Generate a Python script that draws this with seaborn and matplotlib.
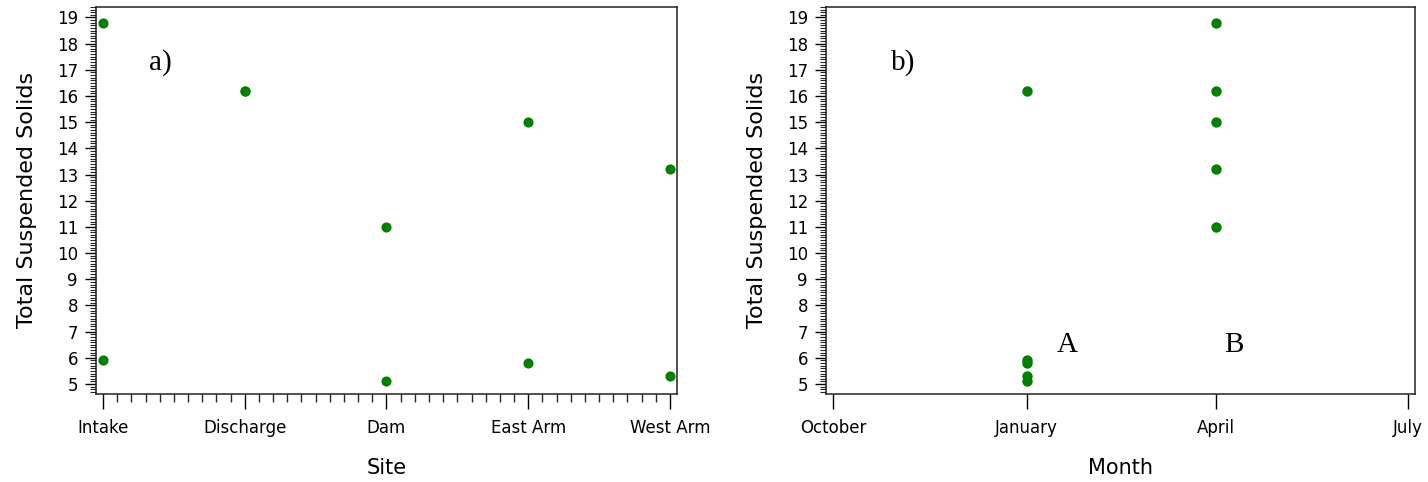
import matplotlib
matplotlib.use("Agg")
import matplotlib.pyplot as plt
import matplotlib.dates as mdates
from matplotlib.ticker import MultipleLocator, FixedLocator
import pandas as pd
import seaborn as sns

# Total suspended solids sampled at five sites in two months
sites = ["Intake", "Discharge", "Dam", "East Arm", "West Arm"]
january_tss = [5.9, 16.2, 5.1, 5.8, 5.3]
april_tss = [18.8, 16.2, 11.0, 15.0, 13.2]
sample_dates = ["2001-01-01", "2001-04-01"]
month_ticks = ["2000-10-01", "2001-01-01", "2001-04-01", "2001-07-01"]
y_ticks = list(range(5, 20))

df = pd.DataFrame({
    "Site": sites * 2,
    "Date": pd.to_datetime([sample_dates[0]] * len(sites) + [sample_dates[1]] * len(sites)),
    "TSS": january_tss + april_tss,
})

sns.set_style("ticks")
plt.rcParams["font.family"] = ["DejaVu Sans"]
plt.rcParams["text.color"] = "black"
plt.rcParams["axes.labelcolor"] = "black"

GREEN = "#008000"
SPINE = "#222222"

fig = plt.figure(figsize=(14.28, 4.82), dpi=100)
ax_a = fig.add_axes([0.0672, 0.1826, 0.4069, 0.8035])
ax_b = fig.add_axes([0.5784, 0.1826, 0.4125, 0.8035])

# a) by site
sns.stripplot(data=df, x="Site", y="TSS", order=sites, jitter=False,
              color=GREEN, size=7.3, linewidth=0, ax=ax_a)
ax_a.set_xlim(-0.05, len(sites) - 1 + 0.05)
ax_a.xaxis.set_minor_locator(MultipleLocator(0.1))
ax_a.set_xlabel("Site")

# b) by sampling month
sns.scatterplot(data=df, x="Date", y="TSS", color=GREEN, s=56,
                linewidth=0, ax=ax_b)
tick_dates = pd.to_datetime(month_ticks)
ax_b.xaxis.set_major_locator(FixedLocator(mdates.date2num(tick_dates)))
ax_b.xaxis.set_major_formatter(mdates.DateFormatter("%B"))
pad = pd.Timedelta(days=3.3)
ax_b.set_xlim(tick_dates[0] - pad, tick_dates[-1] + pad)
ax_b.set_xlabel("Month")

for ax in (ax_a, ax_b):
    ax.set_ylim(4.62, 19.41)
    ax.set_yticks(y_ticks)
    ax.yaxis.set_minor_locator(MultipleLocator(0.1))
    ax.set_ylabel("Total Suspended Solids", fontsize=16, labelpad=14)
    ax.xaxis.label.set_size(15)
    ax.xaxis.labelpad = 15
    for side in ("left", "right", "top", "bottom"):
        ax.spines[side].set_visible(True)
        ax.spines[side].set_color(SPINE)
        ax.spines[side].set_linewidth(1.1)
    ax.tick_params(axis="both", which="major", direction="out", colors="black",
                   labelcolor="black", labelsize=12, width=1.0)
    ax.tick_params(axis="x", which="major", length=11, pad=7)
    ax.tick_params(axis="x", which="minor", length=6, width=1.0)
    ax.tick_params(axis="y", which="major", length=8, pad=5)
    ax.tick_params(axis="y", which="minor", length=4, width=0.8)
    ax.grid(False)

serif = ["Liberation Serif", "DejaVu Serif"]
for ax, x, y, s in [(ax_a, 0.110, 0.857, "a)"), (ax_b, 0.131, 0.857, "b)"),
                    (ax_b, 0.409, 0.127, "A"), (ax_b, 0.693, 0.127, "B")]:
    ax.text(x, y, s, transform=ax.transAxes, family=serif, fontsize=21,
            ha="center", va="center", color="black")

fig.savefig("out.png", dpi=100, facecolor="white")
